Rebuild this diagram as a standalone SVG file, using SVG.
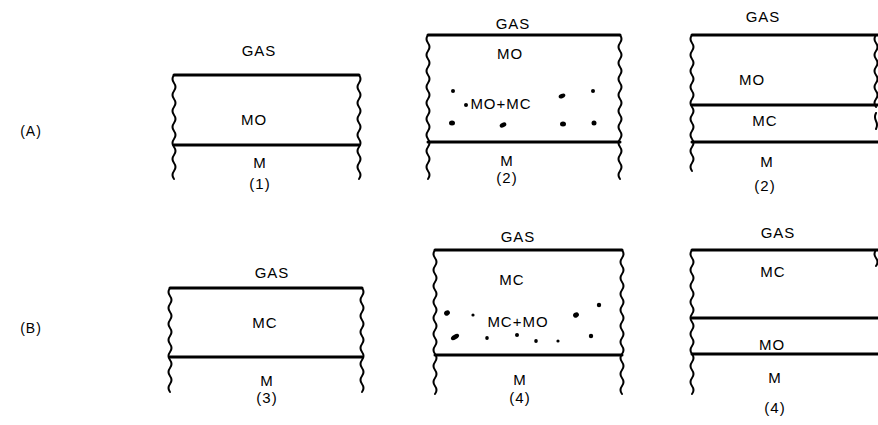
<svg xmlns="http://www.w3.org/2000/svg" width="878" height="425" viewBox="0 0 878 425">
<style>
text{font-family:"Liberation Sans",Arial,sans-serif;font-size:15px;letter-spacing:1px;fill:#000;text-anchor:middle}
.rl{font-size:14px}
.h{stroke:#000;stroke-width:3;fill:none;stroke-linecap:round}
.w{stroke:#000;stroke-width:2;fill:none;stroke-linecap:round}
.d{fill:#000}
</style>
<rect width="878" height="425" fill="#fff"/>
<text class="rl" x="31" y="136">(A)</text>
<text class="rl" x="31" y="333">(B)</text>

<g id="a1">
<path class="h" d="M174,75 H359 M174,145 H359"/>
<path class="w" d="M174,75 q-3,4 0,8 t0,8 t0,8 t0,8 t0,8 t0,8 t0,8 t0,8 t0,8 t0,8 t0,8 t0,8 t0,8"/>
<path class="w" d="M359,75 q3,4 0,8 t0,8 t0,8 t0,8 t0,8 t0,8 t0,8 t0,8 t0,8 t0,8 t0,8 t0,8 t0,8"/>
<text x="259" y="56">GAS</text>
<text x="254" y="125">MO</text>
<text x="260" y="168">M</text>
<text x="260" y="189">(1)</text>
</g>

<g id="a2">
<path class="h" d="M428,35 H620 M428,142 H620"/>
<path class="w" d="M428,35 q-3,4 0,8 t0,8 t0,8 t0,8 t0,8 t0,8 t0,8 t0,8 t0,8 t0,8 t0,8 t0,8 t0,8 t0,8 t0,8 t0,8 t0,8 t0,8"/>
<path class="w" d="M620,35 q3,4 0,8 t0,8 t0,8 t0,8 t0,8 t0,8 t0,8 t0,8 t0,8 t0,8 t0,8 t0,8 t0,8 t0,8 t0,8 t0,8 t0,8 t0,8"/>
<text x="513" y="29">GAS</text>
<text x="510" y="59">MO</text>
<text x="501" y="109">MO+MC</text>
<text x="507" y="166">M</text>
<text x="507" y="183">(2)</text>
<ellipse class="d" cx="453" cy="91" rx="2" ry="2"/>
<ellipse class="d" cx="466" cy="105" rx="2" ry="2"/>
<ellipse class="d" cx="452" cy="123" rx="3" ry="2.5"/>
<ellipse class="d" cx="503" cy="125" rx="3.5" ry="2.3" transform="rotate(-25 503 125)"/>
<ellipse class="d" cx="562" cy="96" rx="3.5" ry="2.2" transform="rotate(-25 562 96)"/>
<ellipse class="d" cx="593" cy="91" rx="2" ry="2"/>
<ellipse class="d" cx="563" cy="124" rx="3" ry="2.5"/>
<ellipse class="d" cx="594" cy="123" rx="2.5" ry="2.5"/>
</g>

<g id="a3">
<path class="h" d="M692,35 H878 M692,105 H878 M692,142 H878"/>
<path class="w" d="M692,35 q-3,4 0,8 t0,8 t0,8 t0,8 t0,8 t0,8 t0,8 t0,8 t0,8 t0,8 t0,8 t0,8 t0,8 t0,8 t0,8 t0,8 t0,8"/>
<path class="w" d="M876,35 q-3,4 0,8 t0,8 t0,8 t0,8 t0,8 t0,8 t0,8 t0,8 t0,8 M876,113 q-2,4 0,8 t0,8"/>
<text x="763" y="22">GAS</text>
<text x="752" y="85">MO</text>
<text x="765" y="126">MC</text>
<text x="767" y="167">M</text>
<text x="765" y="191">(2)</text>
</g>

<g id="b3">
<path class="h" d="M170,288 H362 M170,357 H362"/>
<path class="w" d="M170,288 q-3,4 0,8 t0,8 t0,8 t0,8 t0,8 t0,8 t0,8 t0,8 t0,8 t0,8 t0,8 t0,8 t0,8"/>
<path class="w" d="M362,288 q3,4 0,8 t0,8 t0,8 t0,8 t0,8 t0,8 t0,8 t0,8 t0,8 t0,8 t0,8 t0,8 t0,8"/>
<text x="272" y="278">GAS</text>
<text x="265" y="328">MC</text>
<text x="267" y="386">M</text>
<text x="267" y="403">(3)</text>
</g>

<g id="b4">
<path class="h" d="M435,250 H622 M435,355 H622"/>
<path class="w" d="M435,250 q-3,4 0,8 t0,8 t0,8 t0,8 t0,8 t0,8 t0,8 t0,8 t0,8 t0,8 t0,8 t0,8 t0,8 t0,8 t0,8 t0,8 t0,8 t0,8"/>
<path class="w" d="M622,250 q3,4 0,8 t0,8 t0,8 t0,8 t0,8 t0,8 t0,8 t0,8 t0,8 t0,8 t0,8 t0,8 t0,8 t0,8 t0,8 t0,8 t0,8 t0,8"/>
<text x="518" y="242">GAS</text>
<text x="512" y="285">MC</text>
<text x="518" y="327">MC+MO</text>
<text x="520" y="385">M</text>
<text x="520" y="403">(4)</text>
<ellipse class="d" cx="447" cy="313" rx="3" ry="2.5" transform="rotate(-30 447 313)"/>
<ellipse class="d" cx="473" cy="315" rx="1.6" ry="1.6"/>
<ellipse class="d" cx="455" cy="337" rx="4.5" ry="2.3" transform="rotate(-30 455 337)"/>
<ellipse class="d" cx="487" cy="338" rx="1.8" ry="2"/>
<ellipse class="d" cx="517" cy="335" rx="2" ry="2"/>
<ellipse class="d" cx="536" cy="341" rx="1.8" ry="2"/>
<ellipse class="d" cx="558" cy="341" rx="1.6" ry="1.6"/>
<ellipse class="d" cx="591" cy="336" rx="2.2" ry="2.2"/>
<ellipse class="d" cx="576" cy="315" rx="3" ry="2.5" transform="rotate(-30 576 315)"/>
<ellipse class="d" cx="599" cy="305" rx="2.2" ry="2.2"/>
</g>

<g id="b5">
<path class="h" d="M692,250 H878 M692,318 H878 M692,354 H878"/>
<path class="w" d="M692,250 q-3,4 0,8 t0,8 t0,8 t0,8 t0,8 t0,8 t0,8 t0,8 t0,8 t0,8 t0,8 t0,8 t0,8 t0,8 t0,8 t0,8 t0,8 t0,8"/>
<path class="w" d="M876,250 q-3,4 0,8 t0,8"/>
<text x="778" y="238">GAS</text>
<text x="773" y="277">MC</text>
<text x="772" y="350">MO</text>
<text x="775" y="383">M</text>
<text x="775" y="413">(4)</text>
</g>
</svg>
